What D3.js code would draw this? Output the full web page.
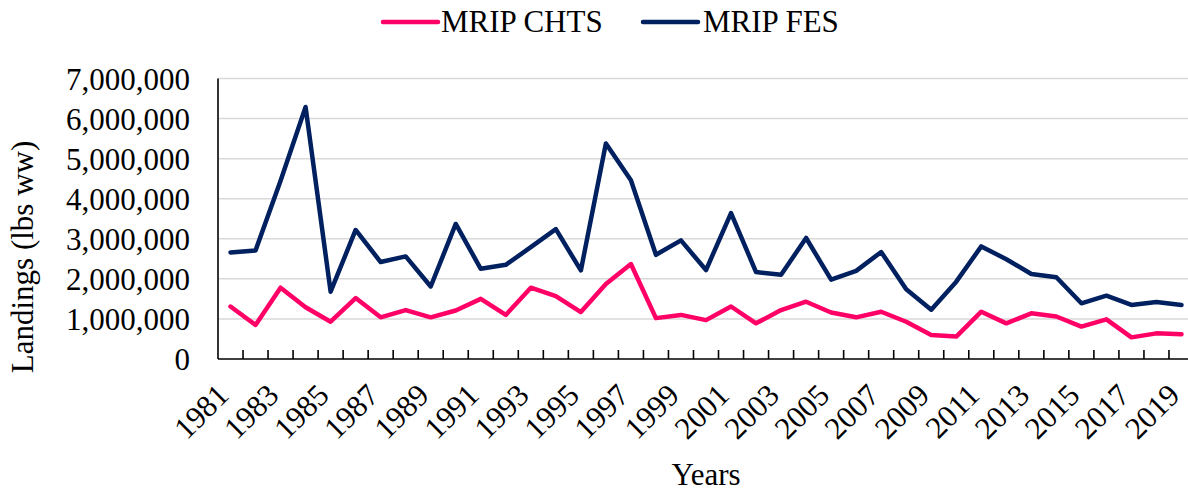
<!DOCTYPE html>
<html>
<head>
<meta charset="utf-8">
<script src="https://cdn.jsdelivr.net/npm/d3@7"></script>
<style>
  html, body { margin: 0; padding: 0; background: #fff; }
  svg { display: block; }
  text { font-family: "Liberation Serif", "Times New Roman", serif; fill: #000; }
</style>
</head>
<body>
<svg id="chart" width="1188" height="491"></svg>
<script>
const years = [1981,1982,1983,1984,1985,1986,1987,1988,1989,1990,1991,1992,1993,1994,1995,1996,1997,1998,1999,2000,
               2001,2002,2003,2004,2005,2006,2007,2008,2009,2010,2011,2012,2013,2014,2015,2016,2017,2018,2019];
const mripChts = [1310000,850000,1780000,1290000,930000,1520000,1040000,1220000,1040000,1210000,1500000,1100000,1780000,1570000,1170000,1870000,2370000,1020000,1100000,970000,
                  1310000,890000,1220000,1430000,1160000,1040000,1180000,930000,600000,560000,1180000,890000,1140000,1060000,810000,990000,540000,640000,620000];
const mripFes = [2660000,2710000,4450000,6290000,1680000,3220000,2420000,2560000,1810000,3370000,2250000,2350000,2790000,3240000,2210000,5380000,4460000,2600000,2960000,2220000,
                 3640000,2170000,2100000,3020000,1980000,2200000,2670000,1740000,1230000,1930000,2810000,2490000,2120000,2040000,1390000,1580000,1350000,1420000,1350000];
const yTicks = [0,1000000,2000000,3000000,4000000,5000000,6000000,7000000];
const xTickLabels = [1981,1983,1985,1987,1989,1991,1993,1995,1997,1999,2001,2003,2005,2007,2009,2011,2013,2015,2017,2019];
const seriesNames = ["MRIP CHTS","MRIP FES"];
const seriesColors = ["#FF0066","#002060"];

const svg = d3.select("#chart");
const pLeft = 218, pRight = 1194, pTop = 78.5, pBottom = 359;

const x = d3.scaleBand().domain(years).range([pLeft, pRight]).padding(0);
const y = d3.scaleLinear().domain([0, 7000000]).range([pBottom, pTop]);
const cx = d => x(d) + x.bandwidth() / 2;

// gridlines
svg.append("g").selectAll("line").data(yTicks.filter(d => d > 0)).join("line")
  .attr("x1", pLeft).attr("x2", pRight)
  .attr("y1", d => y(d)).attr("y2", d => y(d))
  .attr("stroke", "#d9d9d9").attr("stroke-width", 1.5);

// y axis labels
const yAxis = d3.axisLeft(y).tickValues(yTicks).tickSize(0).tickPadding(28)
  .tickFormat(d3.format(","));
const yg = svg.append("g").attr("transform", `translate(${pLeft},0)`).call(yAxis);
yg.select(".domain").remove();
yg.selectAll("text").style("font-size", "31px").style("font-family", '"Liberation Serif", serif').attr("dy", "0.34em");

// x axis line and y axis line
svg.append("line").attr("x1", pLeft).attr("x2", pRight).attr("y1", pBottom).attr("y2", pBottom)
  .attr("stroke", "#000").attr("stroke-width", 1.6);
svg.append("line").attr("x1", pLeft).attr("x2", pLeft).attr("y1", pTop).attr("y2", pBottom)
  .attr("stroke", "#000").attr("stroke-width", 1.6);

// inside tick marks at category boundaries
svg.append("g").selectAll("line").data(years.slice(1)).join("line")
  .attr("x1", d => x(d)).attr("x2", d => x(d))
  .attr("y1", pBottom).attr("y2", pBottom - 9)
  .attr("stroke", "#000").attr("stroke-width", 1.6);

// x tick labels
const xAxis = d3.axisBottom(x).tickValues(xTickLabels).tickSize(0).tickPadding(0);
const xg = svg.append("g").attr("transform", `translate(0,${pBottom})`).call(xAxis);
xg.select(".domain").remove();
xg.selectAll("text")
  .style("font-size", "31px").style("font-family", '"Liberation Serif", serif')
  .attr("text-anchor", "end")
  .attr("dy", null).attr("y", null)
  .attr("transform", "translate(0,38) rotate(-45)");

// lines
const line = d3.line().x((d, i) => cx(years[i])).y(d => y(d));
[mripChts, mripFes].forEach((vals, k) => {
  svg.append("path").datum(vals)
    .attr("d", line)
    .attr("fill", "none")
    .attr("stroke", seriesColors[k])
    .attr("stroke-width", 4.5)
    .attr("stroke-linejoin", "round")
    .attr("stroke-linecap", "round");
});

// legend
const legendPos = [[383, 441], [643, 703]];
seriesNames.forEach((name, k) => {
  svg.append("line")
    .attr("x1", legendPos[k][0]).attr("x2", legendPos[k][0] + 55)
    .attr("y1", 22).attr("y2", 22)
    .attr("stroke", seriesColors[k]).attr("stroke-width", 4.5).attr("stroke-linecap", "round");
  svg.append("text").attr("x", legendPos[k][1]).attr("y", 32)
    .style("font-size", "31px").text(name);
});

// axis titles
svg.append("text").attr("transform", "translate(33,257) rotate(-90)")
  .attr("text-anchor", "middle").style("font-size", "31px").text("Landings (lbs ww)");
svg.append("text").attr("x", 706).attr("y", 485)
  .attr("text-anchor", "middle").style("font-size", "31px").text("Years");
</script>
</body>
</html>
